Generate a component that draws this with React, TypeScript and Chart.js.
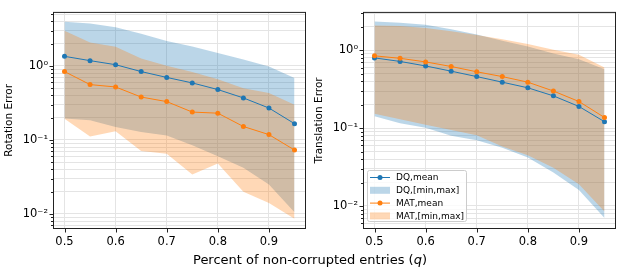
import React, { useEffect, useRef } from 'react';
import { Chart, registerables } from 'chart.js';

Chart.register(...registerables);

// ---------------- data ----------------
const qValues = [0.5, 0.55, 0.6, 0.65, 0.7, 0.75, 0.8, 0.85, 0.9, 0.95];
const xTickValues = [0.5, 0.6, 0.7, 0.8, 0.9];

const rotDqMean = [1.35, 1.18, 1.04, 0.84, 0.70, 0.59, 0.48, 0.37, 0.27, 0.166];
const rotDqMin = [0.195, 0.184, 0.150, 0.128, 0.115, 0.085, 0.060, 0.042, 0.025, 0.0105];
const rotDqMax = [3.96, 3.76, 3.34, 2.73, 2.18, 1.84, 1.50, 1.22, 0.98, 0.69];
const rotMatMean = [0.84, 0.56, 0.52, 0.38, 0.33, 0.238, 0.23, 0.152, 0.118, 0.073];
const rotMatMin = [0.193, 0.111, 0.131, 0.071, 0.065, 0.034, 0.048, 0.020, 0.014, 0.0086];
const rotMatMax = [2.99, 2.07, 1.82, 1.26, 1.01, 0.83, 0.66, 0.50, 0.43, 0.30];

const trDqMean = [0.80, 0.72, 0.63, 0.54, 0.46, 0.39, 0.33, 0.26, 0.19, 0.121];
const trDqMin = [0.142, 0.116, 0.101, 0.080, 0.070, 0.056, 0.042, 0.027, 0.016, 0.0070];
const trDqMax = [2.35, 2.27, 2.13, 1.86, 1.60, 1.33, 1.12, 0.91, 0.77, 0.57];
const trMatMean = [0.85, 0.79, 0.71, 0.62, 0.53, 0.46, 0.39, 0.30, 0.22, 0.137];
const trMatMin = [0.153, 0.130, 0.111, 0.095, 0.081, 0.058, 0.045, 0.031, 0.019, 0.0085];
const trMatMax = [2.09, 2.05, 1.94, 1.76, 1.58, 1.39, 1.21, 1.02, 0.88, 0.60];

const legendLabels = ['DQ,mean', 'DQ,[min,max]', 'MAT,mean', 'MAT,[min,max]'];

// ---------------- style ----------------
const FONT = '"DejaVu Sans", sans-serif';
const BLUE = '#1f77b4';
const ORANGE = '#ff7f0e';
const BLUE_FILL = 'rgba(31,119,180,0.3)';
const ORANGE_FILL = 'rgba(255,127,14,0.3)';
const GRID = '#e4e4e4';

const SUP: Record<string, string> = {
  '-': '\u207B', '0': '\u2070', '1': '\u00B9', '2': '\u00B2', '3': '\u00B3',
  '4': '\u2074', '5': '\u2075', '6': '\u2076', '7': '\u2077', '8': '\u2078', '9': '\u2079',
};

const isMajor = (v: number) => {
  const l = Math.log10(v);
  return Math.abs(l - Math.round(l)) < 1e-6;
};

const pts = (ys: number[]) => qValues.map((x, i) => ({ x, y: ys[i] }));

const framePlugin = {
  id: 'frameTicks',
  afterDraw(chart: any, _args: any, opts: any) {
    const { ctx, chartArea } = chart;
    const { left, right, top, bottom } = chartArea;
    const xs = chart.scales.x;
    const ys = chart.scales.y;
    ctx.save();
    ctx.strokeStyle = '#222';
    ctx.lineWidth = 1;
    ctx.beginPath();
    xs.ticks.forEach((t: any) => {
      const px = Math.round(xs.getPixelForValue(t.value)) + 0.5;
      ctx.moveTo(px, bottom);
      ctx.lineTo(px, bottom + 3.5);
    });
    ys.ticks.forEach((t: any) => {
      const py = Math.round(ys.getPixelForValue(t.value)) + 0.5;
      const len = isMajor(t.value) ? 3.5 : 2;
      ctx.moveTo(left, py);
      ctx.lineTo(left - len, py);
    });
    ctx.stroke();
    ctx.strokeRect(left + 0.5, top + 0.5, right - left - 1, bottom - top - 1);

    if (opts && opts.legend) {
      const lx = left + 4;
      const h = 51;
      const w = 99;
      const ly = bottom - 8 - h;
      ctx.fillStyle = 'rgba(255,255,255,0.8)';
      ctx.strokeStyle = '#cccccc';
      ctx.beginPath();
      (ctx as any).roundRect(lx + 0.5, ly + 0.5, w, h, 2);
      ctx.fill();
      ctx.stroke();
      const colors = [BLUE, BLUE_FILL, ORANGE, ORANGE_FILL];
      ctx.font = `9px ${FONT}`;
      ctx.textBaseline = 'middle';
      legendLabels.forEach((label, i) => {
        const ry = ly + 7.5 + i * 12.8;
        const hx0 = lx + 3;
        const hx1 = lx + 23;
        if (i % 2 === 0) {
          ctx.strokeStyle = colors[i];
          ctx.lineWidth = 1;
          ctx.beginPath();
          ctx.moveTo(hx0, ry);
          ctx.lineTo(hx1, ry);
          ctx.stroke();
          ctx.fillStyle = colors[i];
          ctx.beginPath();
          ctx.arc((hx0 + hx1) / 2, ry, 2.5, 0, Math.PI * 2);
          ctx.fill();
        } else {
          ctx.fillStyle = colors[i];
          ctx.fillRect(hx0, ry - 3.5, hx1 - hx0, 7);
        }
        ctx.fillStyle = '#000';
        ctx.fillText(label, lx + 29, ry + 0.5);
      });
    }
    ctx.restore();
  },
};

interface PanelProps {
  title: string;
  dqMean: number[];
  dqMin: number[];
  dqMax: number[];
  matMean: number[];
  matMin: number[];
  matMax: number[];
  yMin: number;
  yMax: number;
  padRight: number;
  legend: boolean;
}

function Panel(p: PanelProps) {
  const ref = useRef<HTMLCanvasElement | null>(null);
  useEffect(() => {
    if (!ref.current) return;
    const lineDs = (label: string, data: number[], color: string, order: number) => ({
      label,
      data: pts(data),
      borderColor: color,
      backgroundColor: color,
      borderWidth: 1,
      pointRadius: 2.5,
      pointBorderWidth: 0,
      pointBackgroundColor: color,
      fill: false,
      tension: 0,
      order,
    });
    const bandDs = (label: string, data: number[], color: string, fill: any, order: number) => ({
      label,
      data: pts(data),
      borderWidth: 0,
      borderColor: 'rgba(0,0,0,0)',
      pointRadius: 0,
      backgroundColor: color,
      fill,
      tension: 0,
      order,
    });
    const chart = new Chart(ref.current, {
      type: 'line',
      data: {
        datasets: [
          bandDs('DQ max', p.dqMax, BLUE_FILL, '+1', 10),
          bandDs('DQ min', p.dqMin, BLUE_FILL, false, 10),
          bandDs('MAT max', p.matMax, ORANGE_FILL, '+1', 8),
          bandDs('MAT min', p.matMin, ORANGE_FILL, false, 8),
          lineDs('DQ,mean', p.dqMean, BLUE, 2),
          lineDs('MAT,mean', p.matMean, ORANGE, 1),
        ] as any,
      },
      options: {
        responsive: false,
        animation: false,
        devicePixelRatio: 1,
        layout: { padding: { top: 3, right: p.padRight, left: 0, bottom: 0 } },
        plugins: {
          legend: { display: false },
          tooltip: { enabled: false },
          frameTicks: { legend: p.legend },
        } as any,
        scales: {
          x: {
            type: 'linear',
            bounds: 'data',
            min: 0.4775,
            max: 0.9725,
            afterBuildTicks: (s: any) => {
              s.ticks = xTickValues.map((v) => ({ value: v }));
            },
            afterFit: (s: any) => {
              s.height = 43;
            },
            grid: { color: GRID, drawTicks: false, lineWidth: 1 },
            border: { display: false },
            ticks: {
              font: { family: FONT, size: 11.5 },
              color: '#000',
              padding: 6,
              maxRotation: 0,
              autoSkip: false,
              callback: (v: any) => Number(v).toFixed(1),
            },
          },
          y: {
            type: 'logarithmic',
            bounds: 'data',
            min: p.yMin,
            max: p.yMax,
            afterBuildTicks: (s: any) => {
              const t: any[] = [];
              for (let e = -4; e <= 2; e++) {
                for (let m = 1; m <= 9; m++) {
                  const v = m * Math.pow(10, e);
                  if (v >= p.yMin && v <= p.yMax) t.push({ value: v });
                }
              }
              s.ticks = t;
            },
            afterFit: (s: any) => {
              s.width = 53;
            },
            grid: { color: GRID, drawTicks: false, lineWidth: 1 },
            border: { display: false },
            title: {
              display: true,
              text: p.title,
              color: '#000',
              font: { family: FONT, size: 10.5 },
              padding: { top: 2.5, bottom: 0 },
            },
            ticks: {
              font: { family: FONT, size: 11.5 },
              color: '#000',
              padding: 5,
              autoSkip: false,
              callback: (v: any) => {
                const n = Number(v);
                if (!isMajor(n)) return '';
                const e = String(Math.round(Math.log10(n)));
                return '10' + e.split('').map((c) => SUP[c]).join('');
              },
            },
          },
        } as any,
      },
      plugins: [framePlugin],
    });
    return () => chart.destroy();
  }, []);
  return <canvas ref={ref} width={310} height={272} style={{ width: 310, height: 272, display: 'block' }} />;
}

export default function App() {
  return (
    <div style={{ position: 'fixed', left: 0, top: 0, width: 620, height: 272, background: '#fff', overflow: 'hidden' }}>
      <div style={{ position: 'absolute', left: 0, top: 0 }}>
        <Panel
          title="Rotation Error"
          dqMean={rotDqMean}
          dqMin={rotDqMin}
          dqMax={rotDqMax}
          matMean={rotMatMean}
          matMin={rotMatMin}
          matMax={rotMatMax}
          yMin={Math.pow(10, -2.204)}
          yMax={Math.pow(10, 0.731)}
          padRight={3}
          legend={false}
        />
      </div>
      <div style={{ position: 'absolute', left: 310, top: 0 }}>
        <Panel
          title="Translation Error"
          dqMean={trDqMean}
          dqMin={trDqMin}
          dqMax={trDqMax}
          matMean={trMatMean}
          matMin={trMatMin}
          matMax={trMatMax}
          yMin={Math.pow(10, -2.296)}
          yMax={Math.pow(10, 0.494)}
          padRight={4}
          legend={true}
        />
      </div>
      <div
        style={{
          position: 'absolute',
          left: 0,
          top: 252,
          width: 620,
          height: 16,
          lineHeight: '16px',
          textAlign: 'center',
          fontFamily: FONT,
          fontSize: 13,
          color: '#000',
          whiteSpace: 'nowrap',
        }}
      >
        Percent of non-corrupted entries (<i>q</i>)
      </div>
    </div>
  );
}
